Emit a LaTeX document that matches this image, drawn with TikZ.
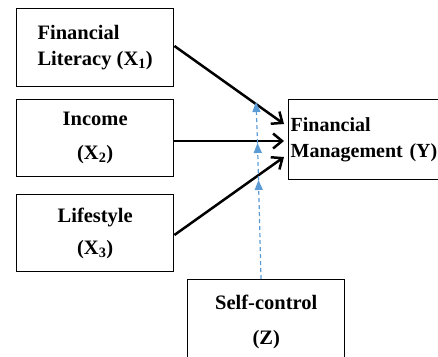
\documentclass[tikz,border=0pt]{standalone}
\usepackage{fontspec}
\setmainfont{Liberation Serif}
\usetikzlibrary{arrows.meta}
\definecolor{modblue}{RGB}{91,155,213}
\begin{document}
\begin{tikzpicture}[x=1pt,y=-1pt,
  box/.style={draw=black,line width=1.4pt,inner sep=0pt,anchor=north west,
    font=\fontsize{20.5}{26}\selectfont\bfseries,align=center},
  path/.style={line width=2.5pt,-{Straight Barb[length=9pt,width=15pt,line width=2.5pt]}},
  mod/.style={modblue,line width=1.2pt,dash pattern=on 4pt off 3pt,-{Triangle[length=10pt,width=8pt]}}]
\clip (0,0) rectangle (438,356);
\useasboundingbox (0,0) rectangle (438,356);
\node[box,minimum width=157pt,minimum height=78pt,align=left] (x1) at (16,8) {Financial\\Literacy (X\textsubscript{1})};
\node[box,minimum width=157pt,minimum height=77pt] (x2) at (16,99) {Income\\[8pt](X\textsubscript{2})};
\node[box,minimum width=157pt,minimum height=77pt] (x3) at (16,194) {Lifestyle\\[6pt](X\textsubscript{3})};
\node[box,minimum height=80pt,text width=166pt,inner xsep=2pt,align=left,font=\fontsize{20}{26}\selectfont\bfseries] (y) at (288,99) {Financial\\Management (Y)};
\node[box,minimum width=157pt,minimum height=84pt] (z) at (187,279) {Self-control\\[9pt](Z)};
\coordinate (t1) at (284,124);
\coordinate (t2) at (284,141);
\coordinate (t3) at (284,157);
\draw[path] (x1.east |- 0,46) -- (t1);
\draw[path] (x2.east |- 0,141) -- (t2);
\draw[path] (x3.east |- 0,235) -- (t3);
\coordinate (zs) at (261,279);
\coordinate (m1) at (258.5,180);
\coordinate (m2) at (257.5,143);
\coordinate (m3) at (256,102);
\draw[mod] (zs) -- (m1);
\draw[mod] (m1) -- (m2);
\draw[mod] (m2) -- (m3);
\end{tikzpicture}
\end{document}
